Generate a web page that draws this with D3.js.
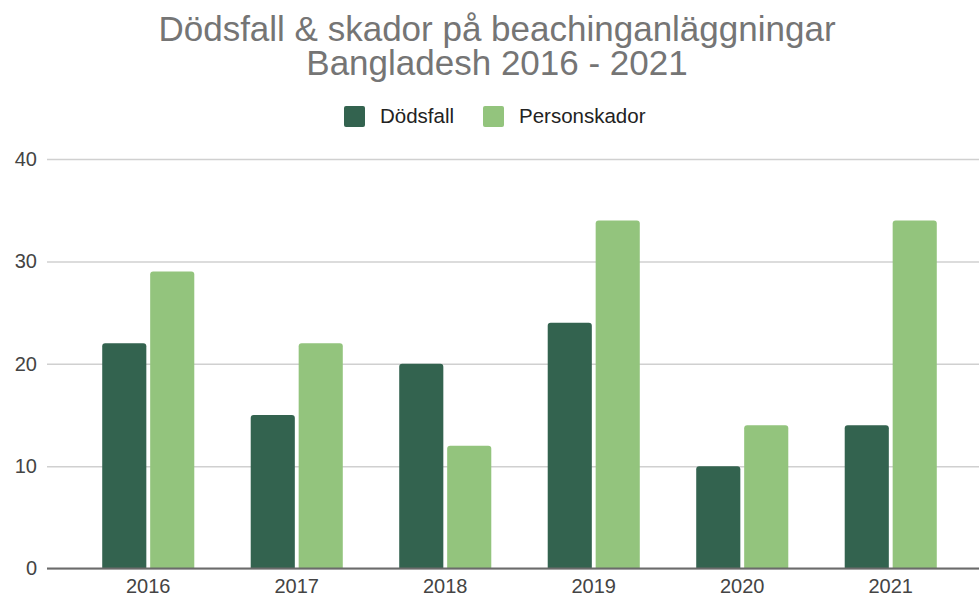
<!DOCTYPE html>
<html>
<head>
<meta charset="utf-8">
<script src="https://cdn.jsdelivr.net/npm/d3@7"></script>
<style>
  body { margin: 0; background: #fff; }
  svg { display: block; font-family: Arial, "Liberation Sans", sans-serif; }
</style>
</head>
<body>
<svg id="chart"></svg>
<script>
// data
const years = ['2016', '2017', '2018', '2019', '2020', '2021'];
const seriesNames = ['Dödsfall', 'Personskador'];
const deaths = [22, 15, 20, 24, 10, 14];
const injuries = [29, 22, 12, 34, 14, 34];
const yTicks = [0, 10, 20, 30, 40];
const titleLines = ['Dödsfall & skador på beachinganläggningar', 'Bangladesh 2016 - 2021'];

const colors = ['#33634f', '#93c47d'];

const width = 979, height = 598;
const margin = { top: 159, right: 0, bottom: 30, left: 47 };

const svg = d3.select('#chart')
    .attr('width', width)
    .attr('height', height);

const rows = years.map((y, i) => ({ year: y, values: [deaths[i], injuries[i]] }));

// scales
const xScale = d3.scaleBand()
    .domain(years)
    .range([74, 965])
    .paddingInner(0.38)
    .paddingOuter(0.19);

const xSub = d3.scaleBand()
    .domain(seriesNames)
    .range([0, xScale.bandwidth()])
    .paddingInner(0.08);

const yScale = d3.scaleLinear()
    .domain([0, 40])
    .range([568.5, margin.top]);

// gridlines
const yAxis = d3.axisLeft(yScale)
    .tickValues(yTicks)
    .tickSize(-(width - margin.left))
    .tickPadding(10);

const yAxisGroup = svg.append('g')
    .attr('class', 'axis y-axis')
    .attr('transform', `translate(${margin.left},0)`)
    .call(yAxis);

yAxisGroup.select('.domain').remove();
yAxisGroup.selectAll('line')
    .attr('stroke', '#d0d0d0')
    .attr('stroke-width', 1.5);
yAxisGroup.selectAll('text')
    .attr('fill', '#444')
    .style('font-size', '20px');

// bars (rounded top corners)
const barPath = (x, y, w, h, r) => {
    r = Math.min(r, h);
    return `M${x},${y + h}V${y + r}Q${x},${y} ${x + r},${y}H${x + w - r}Q${x + w},${y} ${x + w},${y + r}V${y + h}Z`;
};

const groups = svg.append('g')
    .selectAll('g')
    .data(rows)
    .join('g')
        .attr('transform', d => `translate(${xScale(d.year)},0)`);

groups.selectAll('path')
    .data(d => d.values.map((v, i) => ({ key: seriesNames[i], value: v, idx: i })))
    .join('path')
        .attr('fill', d => colors[d.idx])
        .attr('d', d => barPath(xSub(d.key), yScale(d.value), xSub.bandwidth(), yScale(0) - yScale(d.value), 3));

// baseline
svg.append('line')
    .attr('x1', margin.left)
    .attr('x2', width)
    .attr('y1', yScale(0))
    .attr('y2', yScale(0))
    .attr('stroke', '#6b6b6b')
    .attr('stroke-width', 2);

// x axis labels
const xAxis = d3.axisBottom(xScale)
    .tickSize(0)
    .tickPadding(10);

const xAxisGroup = svg.append('g')
    .attr('class', 'axis x-axis')
    .attr('transform', `translate(0,${yScale(0)})`)
    .call(xAxis);

xAxisGroup.select('.domain').remove();
xAxisGroup.selectAll('text')
    .attr('fill', '#444')
    .style('font-size', '20px');

// title (one text, two lines)
svg.append('text')
    .attr('class', 'chart-title')
    .attr('text-anchor', 'middle')
    .attr('fill', '#757575')
    .style('font-size', '35px')
    .selectAll('tspan')
    .data(titleLines)
    .join('tspan')
        .attr('x', 497)
        .attr('y', (d, i) => 41 + i * 34)
        .text(d => d);

// legend
const legendItems = [
    { name: seriesNames[0], color: colors[0], x: 344 },
    { name: seriesNames[1], color: colors[1], x: 483 }
];

const legend = svg.append('g')
    .selectAll('g')
    .data(legendItems)
    .join('g')
        .attr('transform', d => `translate(${d.x},106)`);

legend.append('rect')
    .attr('width', 21)
    .attr('height', 21)
    .attr('rx', 2)
    .attr('fill', d => d.color);

legend.append('text')
    .attr('x', 36)
    .attr('y', 17)
    .attr('fill', '#222')
    .style('font-size', '20.5px')
    .text(d => d.name);
</script>
</body>
</html>
